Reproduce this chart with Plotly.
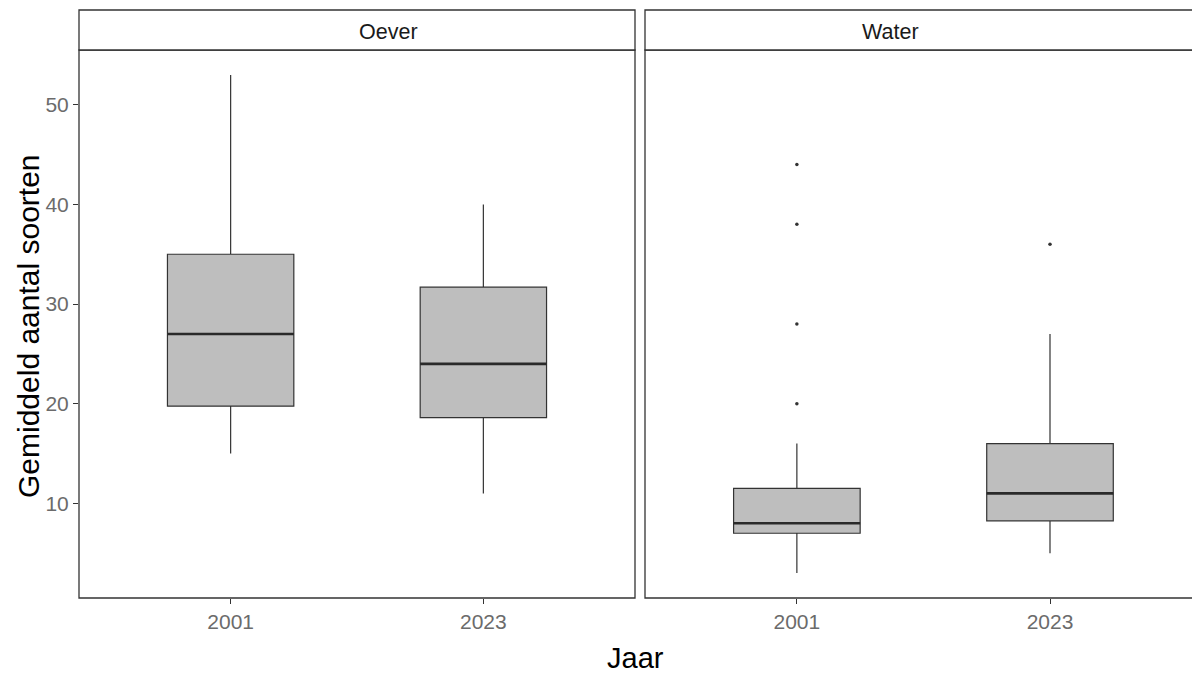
import plotly.graph_objects as go

# ---- data ----
years = ["2001", "2023"]
panels = ["Oever", "Water"]

oever_lower = [15.0, 11.0]
oever_q1 = [19.75, 18.6]
oever_median = [27.0, 24.0]
oever_q3 = [35.0, 31.7]
oever_upper = [53.0, 40.0]

water_lower = [3.0, 5.0]
water_q1 = [7.0, 8.25]
water_median = [8.0, 11.0]
water_q3 = [11.5, 16.0]
water_upper = [16.0, 27.0]

water_outliers_2001 = [20.0, 28.0, 38.0, 44.0]
water_outliers_2023 = [36.0]

y_ticks = [10, 20, 30, 40, 50]

# ---- style ----
FONT = "Liberation Sans, Arial, sans-serif"
BOX_FILL = "#bebebe"
LINE = "#333333"
BORDER = "#333333"
TICK_COL = "#6b6b6b"
BOX_W = 0.5

W, H = 1192, 675
ML, MR, MT, MB = 79, 0, 50, 77
plot_w = W - ML - MR
plot_h = H - MT - MB
d1 = [0, (635 - ML) / plot_w]
d2 = [(645 - ML) / plot_w, 1.0]

fig = go.Figure()

panel_data = [
    ("x", "y", oever_lower, oever_q1, oever_median, oever_q3, oever_upper, [[], []]),
    ("x2", "y2", water_lower, water_q1, water_median, water_q3, water_upper,
     [water_outliers_2001, water_outliers_2023]),
]

for xa, ya, lo, q1, med, q3, up, outs in panel_data:
    pos = list(range(len(years)))
    fig.add_trace(go.Box(
        x=pos, q1=q1, median=med, q3=q3, lowerfence=lo, upperfence=up,
        width=BOX_W, whiskerwidth=0, fillcolor=BOX_FILL,
        line=dict(color=LINE, width=1.2), boxpoints=False,
        xaxis=xa, yaxis=ya, showlegend=False, hoverinfo="skip",
    ))
    # thicker median lines (ggplot style)
    for i, m in enumerate(med):
        fig.add_trace(go.Scatter(
            x=[i - BOX_W / 2, i + BOX_W / 2], y=[m, m], mode="lines",
            line=dict(color="#2a2a2a", width=2.6), xaxis=xa, yaxis=ya,
            showlegend=False, hoverinfo="skip",
        ))
    for i, o in enumerate(outs):
        if o:
            fig.add_trace(go.Scatter(
                x=[i] * len(o), y=o, mode="markers",
                marker=dict(color=LINE, size=3.5), xaxis=xa, yaxis=ya,
                showlegend=False, hoverinfo="skip",
            ))

tickfont = dict(family=FONT, size=21, color=TICK_COL)
yr = [0.5, 55.5]

fig.update_layout(
    width=W, height=H,
    margin=dict(l=ML, r=MR, t=MT, b=MB),
    paper_bgcolor="white", plot_bgcolor="white",
    font=dict(family=FONT),
    xaxis=dict(domain=d1, range=[-0.6, 1.6], tickmode="array", tickvals=[0, 1],
               ticktext=years, ticks="outside", ticklen=5, tickcolor=BORDER,
               tickwidth=1, showgrid=False, zeroline=False, showline=False,
               tickfont=tickfont, fixedrange=True),
    xaxis2=dict(domain=d2, range=[-0.6, 1.561], tickmode="array",
                tickvals=[0, 1], ticktext=years, ticks="outside", ticklen=5,
                tickcolor=BORDER, tickwidth=1, showgrid=False, zeroline=False,
                showline=False, tickfont=tickfont, anchor="y2", fixedrange=True),
    yaxis=dict(range=yr, tickmode="array", tickvals=y_ticks, ticks="outside",
               ticklen=5, tickcolor=BORDER, tickwidth=1, showgrid=False,
               zeroline=False, showline=False, tickfont=tickfont, fixedrange=True),
    yaxis2=dict(range=yr, anchor="x2", matches="y", showticklabels=False,
                ticks="", showgrid=False, zeroline=False, showline=False,
                fixedrange=True),
)

strip_top = 1 + 40 / plot_h
shapes = []
for (x0, x1) in [(d1[0], d1[1]), (d2[0], 1.01)]:
    shapes.append(dict(type="rect", xref="paper", yref="paper", x0=x0, x1=x1,
                       y0=0, y1=1, line=dict(color=BORDER, width=1.3),
                       fillcolor="rgba(0,0,0,0)", layer="above"))
    shapes.append(dict(type="rect", xref="paper", yref="paper", x0=x0, x1=x1,
                       y0=1, y1=strip_top, line=dict(color=BORDER, width=1.3),
                       fillcolor="white", layer="above"))
fig.update_layout(shapes=shapes)

strip_y = 1 + 18 / plot_h
annotations = [
    dict(text=panels[0], x=(d1[0] + d1[1]) / 2, y=strip_y,
         xref="paper", yref="paper", showarrow=False,
         font=dict(family=FONT, size=21.5, color="#1a1a1a"), yanchor="middle"),
    dict(text=panels[1], x=(d2[0] + (1197 - ML) / plot_w) / 2, y=strip_y,
         xref="paper", yref="paper", showarrow=False,
         font=dict(family=FONT, size=21.5, color="#1a1a1a"), yanchor="middle"),
    dict(text="Jaar", x=0.5, y=-60 / plot_h, xref="paper", yref="paper",
         showarrow=False, font=dict(family=FONT, size=29, color="black"),
         yanchor="middle"),
    dict(text="Gemiddeld aantal soorten", x=-(ML - 29) / plot_w,
         y=(H - MB - 326) / plot_h,
         xref="paper", yref="paper", showarrow=False, textangle=-90,
         font=dict(family=FONT, size=30, color="black"), xanchor="center",
         yanchor="middle"),
]
fig.update_layout(annotations=annotations)

fig.write_html("out.html", config={"displayModeBar": False},
               post_script="document.body.style.margin='0';document.body.style.overflow='hidden';")
